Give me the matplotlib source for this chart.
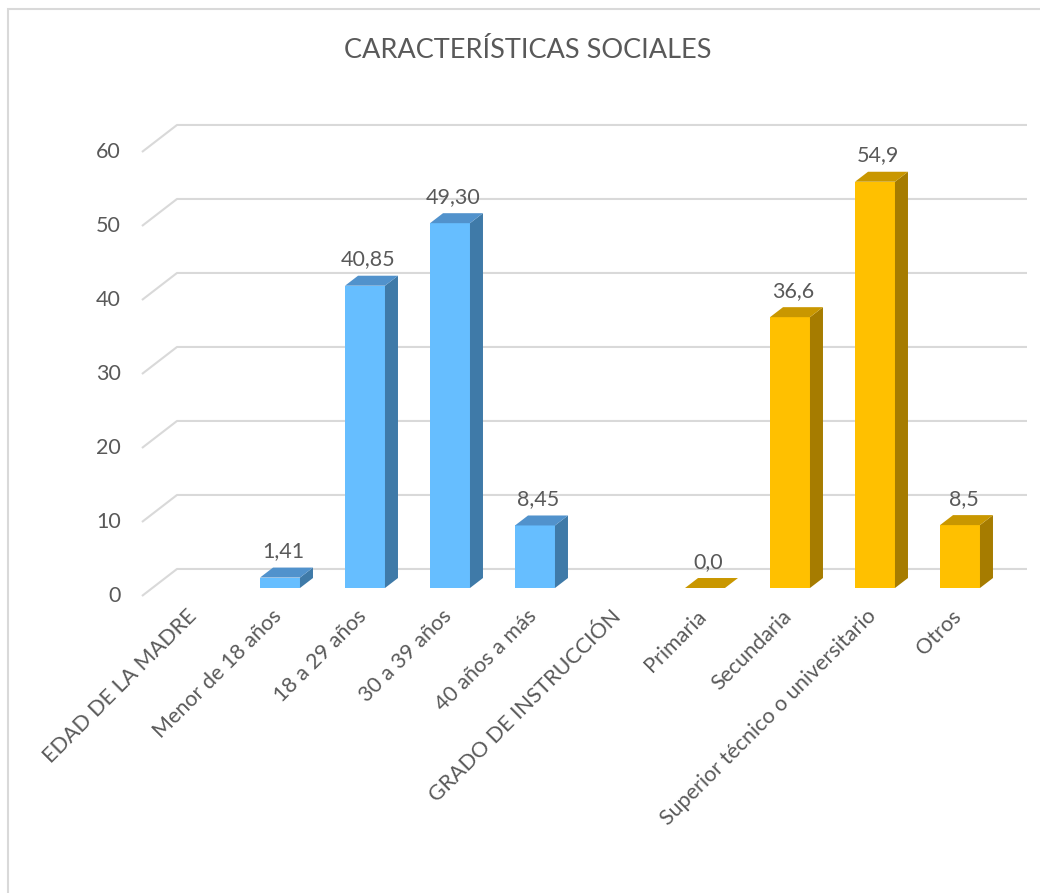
import matplotlib
matplotlib.use("Agg")
import matplotlib.pyplot as plt
from matplotlib.patches import Polygon, Rectangle
import numpy as np

plt.rcParams['font.family'] = ['Lato', 'DejaVu Sans']

# data
categories = ['EDAD DE LA MADRE', 'Menor de 18 años', '18 a 29 años', '30 a 39 años',
              '40 años a más', 'GRADO DE INSTRUCCIÓN', 'Primaria', 'Secundaria',
              'Superior técnico o universitario', 'Otros']
values = [None, 1.41, 40.85, 49.30, 8.45, None, 0.0, 36.6, 54.9, 8.5]
labels = ['', '1,41', '40,85', '49,30', '8,45', '', '0,0', '36,6', '54,9', '8,5']
groups = [None, 'edad', 'edad', 'edad', 'edad', None, 'grado', 'grado', 'grado', 'grado']
yticks = [0, 10, 20, 30, 40, 50, 60]

TEXT = '#595959'
GRID = '#d9d9d9'
COLORS = {
    'edad':  dict(front='#66beff', top='#5192cc', side='#3f7aa8'),
    'grado': dict(front='#ffc000', top='#c99700', side='#a67c00'),
}

# geometry (category units in x, value units in y)
BAR_W = 0.47
BAR_DX, BAR_DY = 0.153, 1.35      # bar depth
FLOOR_FRONT = (-0.624, -1.08)     # left front edge offset
FLOOR_BACK = (-0.212, 2.57)       # back wall offset
WALL_RIGHT = 9.788

fig = plt.figure(figsize=(10.4, 8.93), dpi=100)
ax = fig.add_axes([0, 0, 1, 1])
ax.set_xlim(-195 / 85, 845 / 85)
ax.set_ylim(-305 / 7.4, 588 / 7.4)
ax.axis('off')

# chart border
fig.patches.append(Rectangle((8 / 1040, -0.05), 1.1, (893 - 9) / 893 + 0.05,
                             transform=fig.transFigure, fill=False,
                             edgecolor=GRID, linewidth=1.5))

# gridlines: slanted side wall + back wall
for g in yticks:
    ax.plot([FLOOR_FRONT[0], FLOOR_BACK[0], WALL_RIGHT],
            [g + FLOOR_FRONT[1], g + FLOOR_BACK[1], g + FLOOR_BACK[1]],
            color=GRID, lw=1.5, zorder=1, solid_capstyle='butt')
    ax.text(FLOOR_FRONT[0] - 0.25, g + FLOOR_FRONT[1], str(g), ha='right', va='center',
            fontsize=15.5, color=TEXT)

x = np.arange(len(categories))

# 3D bars
for xi, v, grp, lab in zip(x, values, groups, labels):
    if v is None:
        continue
    c = COLORS[grp]
    l, r = xi - BAR_W / 2, xi + BAR_W / 2
    if v > 0:
        ax.bar(xi, v, width=BAR_W, color=c['front'], edgecolor='none', zorder=3)
        ax.add_patch(Polygon([(r, 0), (r + BAR_DX, BAR_DY), (r + BAR_DX, v + BAR_DY), (r, v)],
                             closed=True, facecolor=c['side'], edgecolor='none', zorder=3))
    ax.add_patch(Polygon([(l, v), (r, v), (r + BAR_DX, v + BAR_DY), (l + BAR_DX, v + BAR_DY)],
                         closed=True, facecolor=c['top'], edgecolor='none', zorder=3))
    ax.text(xi + 0.04, v + BAR_DY + 2.2, lab, ha='center', va='center',
            fontsize=15.5, color=TEXT, zorder=4)

# category labels
for xi, cat in zip(x, categories):
    ax.text(xi - 0.02, -3.4, cat, rotation=45, rotation_mode='anchor',
            ha='right', va='center', fontsize=15.5, color=TEXT)

fig.text(528 / 1040, 1 - 50 / 893, 'CARACTERÍSTICAS SOCIALES', ha='center', va='center',
         fontsize=19.5, color=TEXT)

fig.savefig('out.png', dpi=100, facecolor='white')
